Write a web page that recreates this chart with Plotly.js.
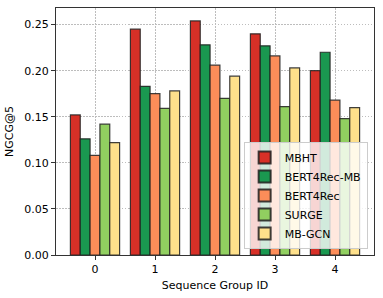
<!DOCTYPE html>
<html>
<head>
<meta charset="utf-8">
<script src="https://cdn.plot.ly/plotly-3.0.1.min.js"></script>
<style>html,body{margin:0;padding:0;background:#fff;}#chart{width:383px;height:298px;}</style>
</head>
<body>
<div id="chart"></div>
<script>
const groups = [0, 1, 2, 3, 4];
const seriesNames = ["MBHT", "BERT4Rec-MB", "BERT4Rec", "SURGE", "MB-GCN"];
const mbht = [0.152, 0.245, 0.254, 0.240, 0.200];
const bert4recMB = [0.126, 0.183, 0.228, 0.227, 0.220];
const bert4rec = [0.108, 0.175, 0.206, 0.216, 0.168];
const surge = [0.142, 0.159, 0.170, 0.161, 0.148];
const mbgcn = [0.122, 0.178, 0.194, 0.203, 0.160];
const colors = ["#d73027", "#1a9850", "#fc8d59", "#91cf60", "#fee08b"];
const seriesValues = [mbht, bert4recMB, bert4rec, surge, mbgcn];

const traces = seriesNames.map((name, i) => ({
  type: "bar",
  name: name,
  x: groups,
  y: seriesValues[i],
  marker: {color: colors[i], line: {color: "rgba(30,30,30,0.85)", width: 1.2}}
}));

const font = {family: "DejaVu Sans, sans-serif", size: 11, color: "#000"};
const layout = {
  width: 383, height: 298,
  margin: {l: 56, r: 9, t: 8, b: 43},
  paper_bgcolor: "#fff", plot_bgcolor: "#fff",
  font: font,
  barmode: "group",
  bargap: 0.18,
  bargroupgap: 0,
  showlegend: true,
  legend: {
    x: 0.98, xanchor: "right", y: 0.024, yanchor: "bottom",
    bgcolor: "rgba(255,255,255,0.8)", bordercolor: "#cccccc", borderwidth: 1,
    font: {family: "DejaVu Sans, sans-serif", size: 11, color: "#000"},
    tracegroupgap: 0, itemsizing: "constant"
  },
  xaxis: {
    range: [-0.65, 4.65],
    tickvals: groups, ticktext: groups.map(String),
    showline: true, mirror: true, linecolor: "#333", linewidth: 1,
    ticks: "outside", ticklen: 4, tickcolor: "#333",
    showgrid: true, gridcolor: "#bdbdbd", griddash: "1.5px,1.5px", gridwidth: 1,
    zeroline: false,
    title: {text: "Sequence Group ID", font: font, standoff: 6}
  },
  yaxis: {
    range: [0, 0.268],
    tickvals: [0, 0.05, 0.10, 0.15, 0.20, 0.25],
    ticktext: ["0.00", "0.05", "0.10", "0.15", "0.20", "0.25"],
    showline: true, mirror: true, linecolor: "#333", linewidth: 1,
    ticks: "outside", ticklen: 4, tickcolor: "#333",
    showgrid: true, gridcolor: "#bdbdbd", griddash: "1.5px,1.5px", gridwidth: 1,
    zeroline: false,
    title: {text: "NGCG@5", font: font, standoff: 8}
  }
};
Plotly.newPlot("chart", traces, layout, {displayModeBar: false, staticPlot: true});
</script>
</body>
</html>
